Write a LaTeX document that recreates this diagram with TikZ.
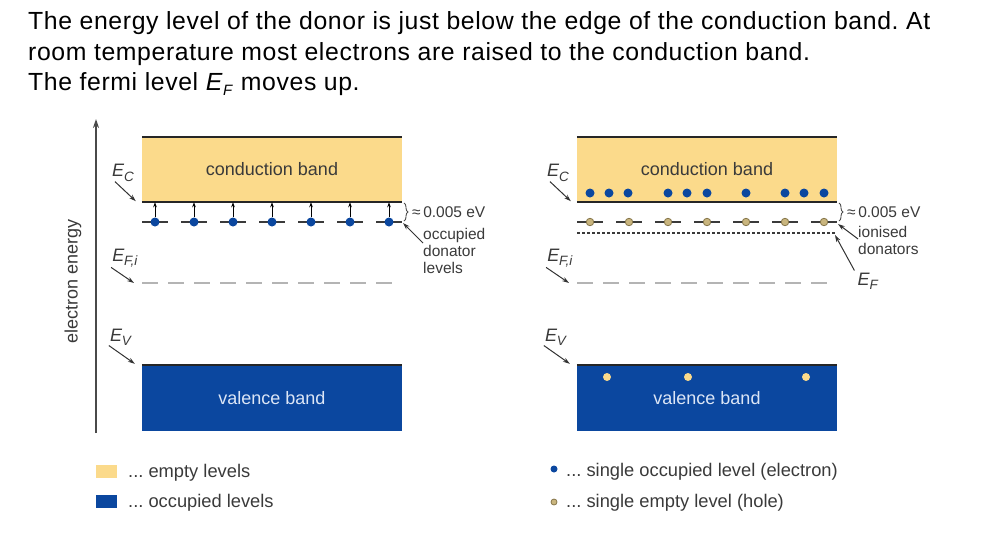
\documentclass[tikz,border=0pt]{standalone}
\usepackage{fontspec}
\setmainfont{Liberation Sans}
\usetikzlibrary{arrows.meta, decorations.pathreplacing, positioning}
\frenchspacing

\definecolor{bandyellow}{HTML}{FBDA8B}
\definecolor{bandblue}{HTML}{0B479F}
\definecolor{axisgray}{HTML}{4A4A4A}
\definecolor{levelgray}{HTML}{3A3A3A}
\definecolor{fermigray}{HTML}{B4B4B4}
\definecolor{holefill}{HTML}{C9B57E}
\definecolor{holeline}{HTML}{86764A}
\definecolor{vbtext}{HTML}{DCE6F6}

% E with a small subscript, as in the figure
\newcommand{\elab}[1]{\textit{E}\kern-0.3pt\raisebox{-0.45ex}{\fontsize{13.5}{13.5}\selectfont\textit{#1}}}

\tikzset{
  head/.style={font=\fontsize{24.8}{28}\selectfont\addfontfeature{LetterSpace=2.5}, inner sep=0pt, anchor=base west},
  bandtxt/.style={font=\fontsize{18}{20}\selectfont, inner sep=0pt},
  keytxt/.style={font=\fontsize{18.3}{20}\selectfont, inner sep=0pt, anchor=base west, text=levelgray},
  smalltxt/.style={font=\fontsize{15.5}{17}\selectfont, inner sep=0pt, align=left, text=levelgray},
  elabel/.style={font=\fontsize{18}{20}\selectfont, inner sep=0pt, text=levelgray},
  cband/.style={fill=bandyellow, minimum width=260, minimum height=65, inner sep=0pt, bandtxt, text=levelgray},
  vband/.style={fill=bandblue, minimum width=260, minimum height=66, inner sep=0pt, bandtxt, text=vbtext},
  edge/.style={line width=1.6pt, black!85},
  donor/.style={line width=2pt, levelgray},
  fermi/.style={line width=1.8pt, fermigray, dash pattern=on 16pt off 10pt},
  fermiline/.style={line width=1.2pt, levelgray, dash pattern=on 3pt off 2pt},
  edot/.style={circle, fill=bandblue, minimum size=9, inner sep=0pt},
  hdot/.style={circle, fill=bandyellow, minimum size=8, inner sep=0pt},
  idot/.style={circle, fill=holefill, draw=holeline, line width=0.8pt, minimum size=7.5, inner sep=0pt},
  pointer/.style={-{Stealth[length=7pt,width=4.5pt]}, line width=1pt, black!80},
  lift/.style={-{Stealth[length=5pt,width=3.5pt]}, line width=0.9pt, black},
  gap/.style={decorate, decoration={brace, amplitude=4pt}, line width=0.9pt, black!70}
}

\begin{document}
\begin{tikzpicture}[x=1pt, y=-1pt]
\useasboundingbox (0,0) rectangle (992,555);

% heading
\node[head] (line1) at (28,29) {The energy level of the donor is just below the edge of the conduction band. At};
\node[head] (line2) at (28,60) {room temperature most electrons are raised to the conduction band.};
\node[head] (line3) at (28,90) {The fermi level \textit{E}\raisebox{-0.4ex}{\fontsize{15}{15}\selectfont\textit{F}} moves up.};

% energy axis
\coordinate (axlow) at (96,433);
\coordinate (axtop) at (96,119);
\draw[line width=1.8pt, axisgray, -{Stealth[length=9pt,width=6pt]}] (axlow) -- (axtop);
\node[bandtxt, rotate=90, text=levelgray] (axname) at (73,281) {electron energy};

% left: donators occupied
\node[cband] (cbL) at (272,169.5) {conduction band};
\node[vband] (vbL) at (272,398) {valence band};
\draw[edge] (cbL.north west) -- (cbL.north east);
\draw[edge] (cbL.south west) -- (cbL.south east);
\draw[edge] (vbL.north west) -- (vbL.north east);
\draw[fermi] (142,283) -- (402,283);
\foreach \i in {0,...,6} {
  \draw[donor] (142+39*\i,222) -- (168+39*\i,222);
  \node[edot] (eL\i) at (155+39*\i,222) {};
  \draw[lift] (eL\i.north) -- (eL\i |- cbL.south);
}
\coordinate (dLend) at (403,223);
\draw[gap] (404,203) -- (404,221);
\node[smalltxt, anchor=west] (gapL) at (412,212) {≈\,0.005 eV};
\node[smalltxt, anchor=north west] (occL) at (423,228) {occupied\\donator\\levels};
\draw[pointer] ([yshift=-15pt]occL.north west) -- (dLend);

\node[elabel] (ecL) at (123,173) {\elab{C}};
\node[elabel] (efL) at (125,258) {\elab{F,i}};
\node[elabel] (evL) at (121,337) {\elab{V}};
\draw[pointer] ([xshift=3pt]ecL.south west) -- ([xshift=-6pt,yshift=1pt]cbL.south west);
\draw[pointer] ([xshift=-1pt]efL.south west) -- (134,283);
\draw[pointer] ([xshift=-1pt]evL.south west) -- ([xshift=-7pt,yshift=1pt]vbL.north west);

% right: donators ionised
\begin{scope}[xshift=435pt]
\node[cband] (cbR) at (272,169.5) {conduction band};
\node[vband] (vbR) at (272,398) {valence band};
\draw[edge] (cbR.north west) -- (cbR.north east);
\draw[edge] (cbR.south west) -- (cbR.south east);
\draw[edge] (vbR.north west) -- (vbR.north east);
\draw[fermi] (142,283) -- (398,283);
\draw[fermiline] (142,233) -- (400,233);
\foreach \x [count=\k] in {155,174,193,233,252,272,311,350,369,389}
  \node[edot] (cR\k) at (\x,193) {};
\foreach \i in {0,...,6} {
  \draw[donor] (142+39*\i,222) -- (168+39*\i,222);
  \node[idot] (iR\i) at (155+39*\i,222) {};
}
\foreach \x [count=\k] in {172,253,371}
  \node[hdot] (hR\k) at (\x,377) {};
\coordinate (dRend) at (403,224);
\coordinate (fRend) at (400,235);
\draw[gap] (404,203) -- (404,221);
\node[smalltxt, anchor=west] (gapR) at (412,212) {≈\,0.005 eV};
\node[smalltxt, anchor=north west] (ionR) at (423,226) {ionised\\donators};
\node[elabel] (efR) at (433,281) {\elab{F}};
\draw[pointer] ([yshift=-13pt]ionR.north west) -- (dRend);
\draw[pointer] ([xshift=-3pt,yshift=2pt]efR.north west) -- (fRend);

\node[elabel] (ecR) at (123,173) {\elab{C}};
\node[elabel] (efiR) at (125,258) {\elab{F,i}};
\node[elabel] (evR) at (121,337) {\elab{V}};
\draw[pointer] ([xshift=3pt]ecR.south west) -- ([xshift=-6pt,yshift=1pt]cbR.south west);
\draw[pointer] ([xshift=-1pt]efiR.south west) -- (134,283);
\draw[pointer] ([xshift=-1pt]evR.south west) -- ([xshift=-7pt,yshift=1pt]vbR.north west);
\end{scope}

% legend
\node[fill=bandyellow, minimum width=21, minimum height=13, inner sep=0pt] (keyY) at (106.5,471.5) {};
\node[fill=bandblue, minimum width=21, minimum height=13, inner sep=0pt] (keyB) at (106.5,501.5) {};
\node[keytxt] (txtY) at (128,477) {... empty levels};
\node[keytxt] (txtB) at (128,507) {... occupied levels};
\node[edot, minimum size=7] (keyE) at (554,469) {};
\node[idot, minimum size=6] (keyH) at (554,502) {};
\node[keytxt] (txtE) at (566,476) {... single occupied level (electron)};
\node[keytxt] (txtH) at (566,507) {... single empty level (hole)};
\end{tikzpicture}
\end{document}
